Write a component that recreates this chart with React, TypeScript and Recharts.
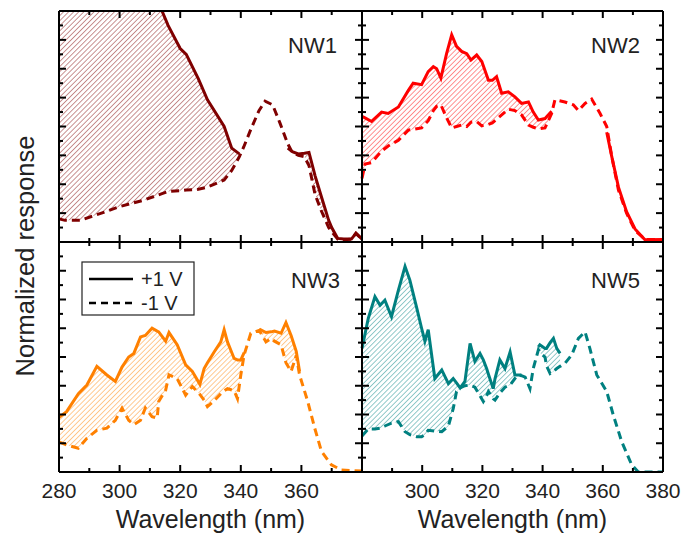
import React from "react";
import { Area, ComposedChart, Line, XAxis, YAxis } from "recharts";

const FONT = "Arial, 'Liberation Sans', sans-serif";
const INK = "#222";

const xTicks = [280, 290, 300, 310, 320, 330, 340, 350, 360, 370, 380];
const yTicks = [0, 1, 2, 3, 4, 5, 6, 7, 8, 9, 10, 11, 12, 13, 14, 15, 16];
const leftXLabels = [280, 300, 320, 340, 360];
const rightXLabels = [300, 320, 340, 360, 380];

// NW1 (dark red)
const nw1Wl = [280, 282, 287, 294, 300, 308, 314, 316, 320, 322, 326, 329, 334.5, 337, 339.5, 341, 343.5, 346, 348, 350.5, 353, 355.5, 357, 359, 361, 362.5, 364.5, 366.5, 369, 370, 372, 374, 376.5, 378, 380];
const nw1Plus = [30, 29.2, 27, 24.3, 21.8, 18.5, 16, 15, 13.4, 13.0, 11.3, 9.85, 8.0, 6.5, 6.1, null, null, null, null, null, null, 6.5, 6.25, 6.1, 6.15, 6.2, 4.6, 3.2, 1.5, 1.0, 0.25, 0.2, 0.2, 0.6, 0.2];
const nw1Minus = [1.6, 1.5, 1.5, 2.0, 2.45, 2.9, 3.35, 3.5, 3.55, 3.6, 3.65, 3.8, 4.3, 4.95, 5.9, 6.6, 7.9, 9.1, 9.75, 9.5, 8.2, 6.8, 6.2, 6.0, 5.9, 5.3, 3.3, 2.2, 1.0, 0.7, 0.2, 0.15, 0.2, 0.6, 0.2];

// NW2 (red)
const nw2Wl = [280, 281, 283.2, 286.5, 288.7, 292.1, 295.4, 297, 299.8, 302, 303.7, 304.8, 306.2, 308.1, 309.8, 311.4, 313.1, 314.8, 316.2, 318.1, 319.8, 322, 323.3, 324.7, 326.4, 328.6, 330.8, 333, 335.3, 336.9, 338.6, 340.8, 343, 344.1, 347.4, 350.2, 351.9, 354.1, 356.3, 359.1, 361.3, 363, 365.2, 367.9, 370.7, 374, 380];
const nw2Plus = [8.7, 8.6, 8.35, 9.0, 8.9, 9.35, 10.5, 11.0, 10.9, 11.8, 12.15, 12.0, 11.35, 13.05, 14.35, 13.55, 13.2, 13.05, 12.6, 12.95, 12.5, 11.2, 11.2, 11.45, 10.3, 10.4, 10.05, 9.6, 9.7, 9.0, 8.45, 8.55, 9.05, null, null, null, null, null, null, null, 7.6, 5.9, 3.8, 2.1, 0.9, 0.15, 0.18];
const nw2Minus = [4.4, 5.4, 5.5, 6.3, 6.65, 7.05, 7.75, 7.8, 7.9, 8.4, 9.1, 9.4, 9.5, 8.6, 7.9, 8.0, 8.1, 8.0, 8.3, 8.35, 8.05, 8.15, 8.25, 8.5, 8.8, 9.2, 9.1, 8.8, 8.1, 7.95, 7.85, 7.9, 8.9, 9.85, 9.7, 9.5, 9.1, 9.6, 9.9, 8.9, 8.0, 5.9, 3.6, 2.0, 0.8, 0.18, 0.18];

// NW3 (orange)
const nw3Wl = [280, 282.5, 286.4, 289.2, 292.5, 295.8, 298.6, 300.8, 303, 304.7, 306.9, 308.5, 310.7, 312.4, 312.9, 315.2, 316.3, 319, 321.8, 324, 326.5, 327.9, 329, 331.2, 333.4, 334.5, 335.6, 337.8, 338.9, 340, 341.1, 343.3, 346.1, 348.3, 350, 351.1, 353.3, 354.9, 356.6, 358.3, 359.4, 362.1, 364.4, 366.6, 369.9, 373.2, 380];
const nw3Plus = [3.8, 4.2, 5.45, 6.05, 7.35, 6.75, 6.3, 7.3, 8.0, 8.25, 9.4, 9.5, 10.0, 9.8, 9.75, 9.1, 9.7, 8.85, 7.45, 7.0, 6.1, 7.2, 7.6, 8.35, 9.05, 9.9, 9.05, 7.9, 7.8, 7.8, 8.3, null, 9.95, 9.7, 9.75, 9.8, 9.65, 10.4, 9.5, 8.4, 7.0, null, null, null, null, null, null];
const nw3Minus = [2.1, 1.88, 1.65, 2.35, 2.9, 3.05, 3.6, 4.45, 3.6, 3.3, 3.6, 4.45, 3.85, 3.75, 4.9, 5.7, 6.75, 6.5, 5.35, 5.95, 5.4, 5.0, 4.55, 4.95, 5.45, 5.65, 5.8, 5.65, 5.1, 6.75, 8.15, 9.65, 9.85, 9.05, 9.3, 9.1, 8.85, 7.6, 7.0, 8.1, 6.75, 4.9, 3.05, 1.45, 0.5, 0.14, 0.07];

// NW5 (teal)
const nw5Wl = [280, 282.1, 284.3, 286, 287.6, 289.8, 292.1, 294.3, 295.9, 298.2, 299.8, 300.9, 302, 304.2, 306.5, 308.7, 310.3, 311.4, 312.6, 314.2, 315.9, 317.5, 319.2, 320.3, 321.4, 322, 323.6, 324.2, 325.8, 327.5, 329.2, 330.8, 331.9, 333, 334.2, 335.8, 336.9, 338.6, 339.1, 340.8, 341.3, 342.5, 343.6, 344.7, 345.8, 347.4, 349.7, 351.9, 354.1, 355.7, 358, 361.3, 363.5, 366.3, 369.6, 371.8, 380];
const nw5Plus = [8.6, 10.7, 12.2, 11.6, 11.95, 10.8, 12.65, 14.3, 13.35, 11.4, 10.0, 9.1, 9.9, 6.5, 7.1, 6.15, 6.5, 6.2, 5.85, 6.3, 8.95, 7.7, 8.25, 7.8, 7.2, 6.8, 5.8, 6.5, 7.8, 7.2, 8.35, 6.75, 6.75, 6.75, null, null, null, 8.7, 8.85, 8.6, 8.6, 9.0, 9.3, 8.6, 8.25, null, null, null, null, null, null, null, null, null, null, null, null];
const nw5Minus = [2.5, 3.0, 3.0, 3.05, 3.2, 3.4, 3.5, 2.8, 2.6, 2.45, 2.45, 2.6, 2.9, 2.85, 2.8, 3.2, 4.4, 5.6, 5.85, 6.0, 6.05, 5.9, 5.3, 4.9, 5.3, 5.6, 5.1, 5.0, 5.5, 5.9, 6.05, 6.5, 6.75, 6.7, 6.6, 5.8, 7.2, 8.5, 8.3, 8.0, 7.4, 6.85, 7.0, 7.2, 7.35, 7.55, 8.15, 9.3, 9.75, 8.6, 6.75, 5.6, 3.95, 2.1, 0.5, 0, 0];

type Row = { wl: number; plus: number | null; minus: number };

function buildRows(wl: number[], plus: (number | null)[], minus: number[]): Row[] {
  return wl.map((w, i) => ({ wl: w, plus: plus[i], minus: minus[i] }));
}

const frame = { stroke: "#000", strokeWidth: 2 };

function BottomTick(props: any) {
  const { x, y, payload, labels } = props;
  const len = payload.value % 20 === 0 ? 7 : 4;
  return (
    <g>
      <line x1={x} y1={y} x2={x} y2={y - len} stroke="#000" strokeWidth={2} />
      {labels && labels.includes(payload.value) ? (
        <text x={x} y={y + 26} textAnchor="middle" fontSize={21} fontFamily={FONT} fill={INK}>
          {payload.value}
        </text>
      ) : null}
    </g>
  );
}

function TopTick(props: any) {
  const { x, y, payload } = props;
  const len = payload.value % 20 === 0 ? 7 : 4;
  return <line x1={x} y1={y} x2={x} y2={y + len} stroke="#000" strokeWidth={2} />;
}

function LeftTick(props: any) {
  const { x, y, payload } = props;
  const len = payload.value % 2 === 0 ? 7 : 4;
  return <line x1={x} y1={y} x2={x + len} y2={y} stroke="#000" strokeWidth={2} />;
}

function RightTick(props: any) {
  const { x, y, payload } = props;
  const len = payload.value % 2 === 0 ? 7 : 4;
  return <line x1={x} y1={y} x2={x - len} y2={y} stroke="#000" strokeWidth={2} />;
}

function Panel({ id, color, rows, left, top, width, height, xLabels }: {
  id: string;
  color: string;
  rows: Row[];
  left: number;
  top: number;
  width: number;
  height: number;
  xLabels: number[] | null;
}) {
  const padX = 30;
  const padY = 6;
  const below = xLabels ? 34 : 0;
  return (
    <div style={{ position: "absolute", left: left - padX, top: top - padY }}>
      <ComposedChart
        width={width + 2 * padX}
        height={height + 2 * padY + below}
        data={rows}
        margin={{ top: padY - 1, right: padX - 1, bottom: padY + below - 1, left: padX - 1 }}
      >
        <defs>
          <pattern id={`hatch-${id}`} width={3.6} height={3.6} patternUnits="userSpaceOnUse" patternTransform="rotate(45)">
            <line x1={0} y1={0} x2={0} y2={3.6} stroke={color} strokeWidth={1} strokeOpacity={0.85} />
          </pattern>
        </defs>
        <XAxis
          xAxisId="b"
          dataKey="wl"
          type="number"
          domain={[280, 380]}
          ticks={xTicks}
          interval={0}
          height={1}
          tickSize={0}
          tickMargin={0}
          tickLine={false}
          axisLine={frame}
          tick={(p: any) => <BottomTick {...p} labels={xLabels} />}
        />
        <XAxis
          xAxisId="t"
          orientation="top"
          dataKey="wl"
          type="number"
          domain={[280, 380]}
          ticks={xTicks}
          interval={0}
          height={1}
          tickSize={0}
          tickMargin={0}
          tickLine={false}
          axisLine={frame}
          tick={(p: any) => <TopTick {...p} />}
        />
        <YAxis
          yAxisId="l"
          type="number"
          domain={[0, 16]}
          ticks={yTicks}
          interval={0}
          allowDataOverflow
          width={1}
          tickSize={0}
          tickMargin={0}
          tickLine={false}
          axisLine={frame}
          tick={(p: any) => <LeftTick {...p} />}
        />
        <YAxis
          yAxisId="r"
          orientation="right"
          type="number"
          domain={[0, 16]}
          ticks={yTicks}
          interval={0}
          allowDataOverflow
          width={1}
          tickSize={0}
          tickMargin={0}
          tickLine={false}
          axisLine={frame}
          tick={(p: any) => <RightTick {...p} />}
        />
        <Area
          xAxisId="b"
          yAxisId="l"
          type="linear"
          dataKey={(d: Row) => [d.minus, d.plus]}
          fill={`url(#hatch-${id})`}
          fillOpacity={1}
          stroke="none"
          isAnimationActive={false}
        />
        <Line
          xAxisId="b"
          yAxisId="l"
          type="linear"
          dataKey="minus"
          stroke={color}
          strokeWidth={3}
          strokeDasharray="8 5"
          dot={false}
          isAnimationActive={false}
        />
        <Line
          xAxisId="b"
          yAxisId="l"
          type="linear"
          dataKey="plus"
          stroke={color}
          strokeWidth={3}
          dot={false}
          isAnimationActive={false}
        />
      </ComposedChart>
    </div>
  );
}

export default function App() {
  const textStyle = { fontFamily: FONT, fill: INK };
  return (
    <div style={{ position: "relative", width: 685, height: 538, background: "#fff" }}>
      <style>{"body{margin:0}"}</style>
      <Panel id="nw1" color="#7f0000" rows={buildRows(nw1Wl, nw1Plus, nw1Minus)} left={59} top={11} width={303} height={231} xLabels={null} />
      <Panel id="nw2" color="#ff0000" rows={buildRows(nw2Wl, nw2Plus, nw2Minus)} left={362} top={11} width={301} height={231} xLabels={null} />
      <Panel id="nw3" color="#ff8000" rows={buildRows(nw3Wl, nw3Plus, nw3Minus)} left={59} top={242} width={303} height={230} xLabels={leftXLabels} />
      <Panel id="nw5" color="#008080" rows={buildRows(nw5Wl, nw5Plus, nw5Minus)} left={362} top={242} width={301} height={230} xLabels={rightXLabels} />
      <svg width={685} height={538} style={{ position: "absolute", left: 0, top: 0, pointerEvents: "none" }}>
        <text transform="translate(33.5,256) rotate(-90)" textAnchor="middle" fontSize={25.5} {...textStyle}>
          Normalized response
        </text>
        <text x={210.5} y={528} textAnchor="middle" fontSize={25} {...textStyle}>Wavelength (nm)</text>
        <text x={512.5} y={528} textAnchor="middle" fontSize={25} {...textStyle}>Wavelength (nm)</text>
        <text x={337} y={53} textAnchor="end" fontSize={22} {...textStyle}>NW1</text>
        <text x={640} y={53} textAnchor="end" fontSize={22} {...textStyle}>NW2</text>
        <text x={340} y={288} textAnchor="end" fontSize={22} {...textStyle}>NW3</text>
        <text x={640} y={288} textAnchor="end" fontSize={22} {...textStyle}>NW5</text>
        <rect x={82} y={262} width={112} height={53} fill="#fff" stroke={INK} strokeWidth={1.2} />
        <line x1={89} y1={279} x2={133} y2={279} stroke="#000" strokeWidth={2.5} />
        <text x={141} y={286} fontSize={20} {...textStyle}>+1 V</text>
        <line x1={89} y1={303} x2={133} y2={303} stroke="#000" strokeWidth={2.5} strokeDasharray="7 5" />
        <text x={141} y={310} fontSize={20} {...textStyle}>-1 V</text>
      </svg>
    </div>
  );
}
